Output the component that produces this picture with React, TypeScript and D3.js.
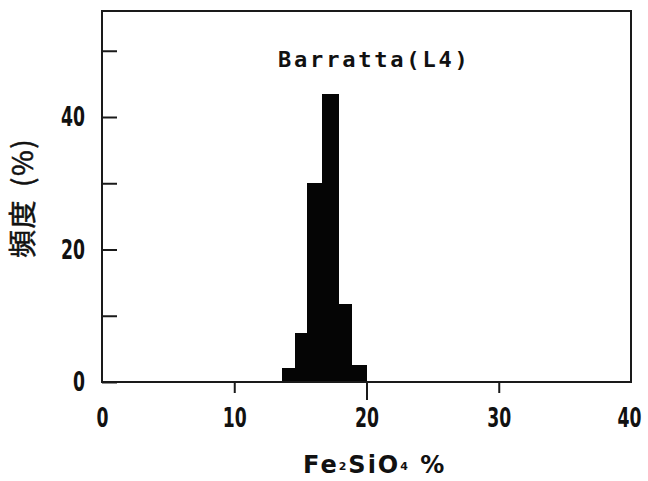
import React, { useRef, useEffect } from "react";
import * as d3 from "d3";

// histogram bins (Fe2SiO4 %)
const binEdges = [13.6, 14.6, 15.5, 16.6, 17.9, 18.9, 20.0];
const freqs = [2.1, 7.4, 30.0, 43.5, 11.8, 2.6];

const xTicks = [0, 10, 20, 30, 40];
const yTicks = [0, 10, 20, 30, 40, 50];
const yLabels = [0, 20, 40];
const title = "Barratta(L4)";

const W = 648;
const H = 481;
const left = 102;
const right = 631;
const top = 11;
const bottom = 382;

const numFont = "'DejaVu Sans Condensed', 'DejaVu Sans', sans-serif";
const squeeze = 0.71; // narrow digits like the printed figure

const App = () => {
  const svgRef = useRef<SVGSVGElement>(null);

  useEffect(() => {
    const svg = d3.select(svgRef.current);
    svg.selectAll("*").remove();

    const x = d3.scaleLinear().domain([0, 40]).range([left, right]);
    const y = d3.scaleLinear().domain([0, 56]).range([bottom, top]);

    // bars
    svg
      .append("g")
      .attr("shape-rendering", "crispEdges")
      .selectAll("rect")
      .data(freqs)
      .join("rect")
      .attr("x", (d, i) => Math.round(x(binEdges[i])))
      .attr("width", (d, i) => Math.round(x(binEdges[i + 1])) - Math.round(x(binEdges[i])))
      .attr("y", (d) => y(d))
      .attr("height", (d) => y(0) - y(d))
      .attr("fill", "#050505");

    // frame
    svg
      .append("rect")
      .attr("x", left)
      .attr("y", top)
      .attr("width", right - left)
      .attr("height", bottom - top)
      .attr("fill", "none")
      .attr("stroke", "#1a1a1a")
      .attr("stroke-width", 2);

    const styleNums = (sel: any) =>
      sel
        .attr("fill", "#111")
        .style("font-family", numFont)
        .style("font-weight", "bold")
        .style("font-size", "27px");

    const yAxis = d3
      .axisLeft(y)
      .tickValues(yTicks)
      .tickSize(-15)
      .tickPadding(17)
      .tickFormat((d) => (yLabels.includes(+d) ? String(d) : ""));
    const gy = svg.append("g").attr("transform", `translate(${left},0)`).call(yAxis);
    gy.select(".domain").remove();
    gy.selectAll("line").attr("stroke", "#1a1a1a").attr("stroke-width", 2);
    gy.selectAll(".tick").filter((d: any) => !yLabels.includes(d)).select("text").remove();
    styleNums(gy.selectAll("text"))
      .attr("x", -17 / squeeze)
      .attr("transform", `scale(${squeeze},1)`);

    const xAxis = d3.axisBottom(x).tickValues(xTicks).tickSize(11).tickPadding(15).tickFormat(d3.format("d"));
    const gx = svg.append("g").attr("transform", `translate(0,${bottom})`).call(xAxis);
    gx.select(".domain").remove();
    gx.selectAll("line")
      .attr("stroke", "#1a1a1a")
      .attr("stroke-width", 2)
      .attr("y2", (d: any) => (d === 0 || d === 40 ? 0 : d === 20 ? 18 : 11));
    styleNums(gx.selectAll("text")).attr("transform", `scale(${squeeze},1)`);
    // keep the last label inside the page
    gx.selectAll("text").filter((d: any) => d === 40).attr("x", -2 / squeeze);

    // title
    svg
      .append("text")
      .attr("x", 278)
      .attr("y", 67)
      .attr("fill", "#111")
      .style("font-family", "'DejaVu Sans Mono', monospace")
      .style("font-weight", "bold")
      .style("font-size", "22px")
      .style("letter-spacing", "2.8px")
      .text(title);

    // x label
    const xl = svg
      .append("text")
      .attr("x", 303)
      .attr("y", 473)
      .attr("fill", "#111")
      .style("font-family", "'DejaVu Sans', sans-serif")
      .style("font-weight", "bold")
      .style("font-size", "24px")
      .style("letter-spacing", "2px");
    xl.append("tspan").text("Fe");
    xl.append("tspan").attr("dy", -3).style("font-size", "11px").text("2");
    xl.append("tspan").attr("dy", 3).text("SiO");
    xl.append("tspan").attr("dy", -3).style("font-size", "11px").text("4");
    xl.append("tspan").attr("dy", 3).text(" %");

    // y label
    const yl = svg
      .append("text")
      .attr("transform", "translate(33,258) rotate(-90)")
      .attr("text-anchor", "start")
      .attr("fill", "#111")
      .attr("stroke", "#111")
      .attr("stroke-width", 0.5)
      .style("font-family", "'Noto Sans CJK JP', sans-serif")
      .style("font-size", "28px")
      .style("letter-spacing", "1.5px");
    yl.append("tspan").text("頻度");
    yl.append("tspan").attr("dx", 12).text("(%)");
  }, []);

  return (
    <svg
      ref={svgRef}
      width={W}
      height={H}
      style={{ display: "block", position: "absolute", left: 0, top: 0, background: "#fff" }}
    />
  );
};

export default App;
